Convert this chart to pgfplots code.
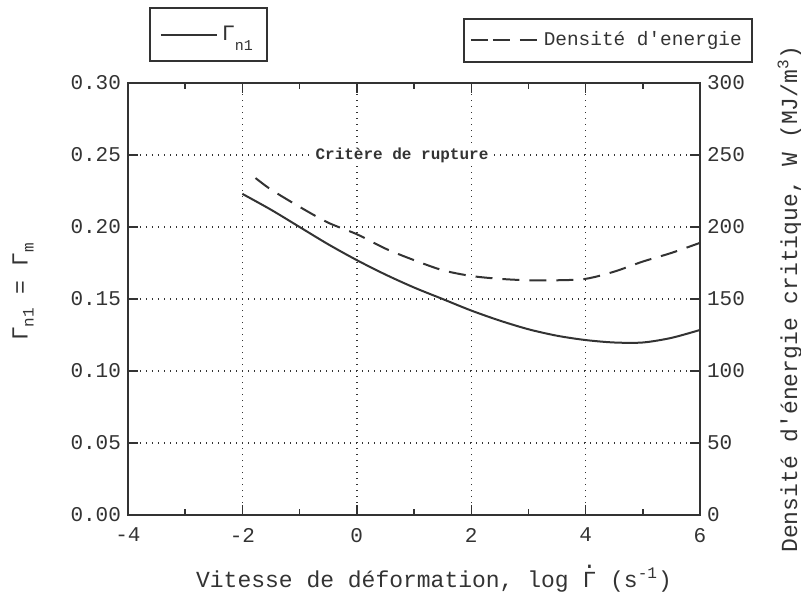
\documentclass[border=0pt]{standalone}
\usepackage{pgfplots}
\pgfplotsset{compat=1.18}
\usepackage{fontspec}
\setmainfont{Liberation Mono}[Ligatures=TeXOff]
\definecolor{ink}{HTML}{333333}
\newcommand{\Gdot}{{\ooalign{Γ\cr\hidewidth\raisebox{0.8em}{.}\hidewidth\cr}}}
\pgfplotstableread{
x y
-2.0 0.223
-1.5 0.212
-1.0 0.200
-0.5 0.188
0.0 0.177
0.5 0.167
1.0 0.158
1.5 0.150
2.0 0.142
2.5 0.135
3.0 0.129
3.5 0.1245
4.0 0.1215
4.5 0.1198
5.0 0.1198
5.5 0.1230
6.0 0.1285
}\gammadata
\pgfplotstableread{
x w
-1.77 234
-1.5 226
-1.0 214
-0.5 203
0.0 195
0.5 185
1.0 177
1.5 170
2.0 166
2.5 164
3.0 163
3.5 163
4.0 164
4.5 169
5.0 176
5.5 182
6.0 189
}\wdata
\begin{document}
\begin{tikzpicture}
\useasboundingbox (-64pt,-42pt) rectangle (336.5pt,257.5pt);
\begin{axis}[
  at={(0,0)}, anchor=south west,
  scale only axis, width=286pt, height=216pt,
  xmin=-4, xmax=6, ymin=0, ymax=0.30,
  xtick={-4,-2,0,2,4,6}, minor xtick={-3,-1,1,3,5},
  ytick={0,0.05,0.10,0.15,0.20,0.25,0.30},
  ytick pos=left,
  tick align=inside,
  major tick length=5pt, minor tick length=3pt,
  axis line style={ink, line width=0.8pt},
  every tick/.style={ink, line width=0.7pt},
  grid=major,
  major grid style={ink, line width=0.7pt, dash pattern=on 0.7pt off 2.3pt},
  /pgf/number format/assume math mode=true,
  tick label style={font=\fontsize{10.5}{12}\selectfont, text=ink},
  yticklabel style={/pgf/number format/.cd, fixed, fixed zerofill, precision=2},
  xticklabel style={yshift=-3pt},
  xlabel={Vitesse de déformation, log \Gdot{} (s\textsuperscript{-1})},
  xlabel style={at={(axis description cs:0.535,0)}, yshift=-32.5pt, anchor=center, font=\fontsize{11.5}{13}\selectfont, text=ink},
  ylabel={Γ\raisebox{-3pt}{\fontsize{8}{9}\selectfont n1} = Γ\raisebox{-3pt}{\fontsize{8}{9}\selectfont m}},
  ylabel style={at={(axis description cs:-0.1836,0.516)}, anchor=center, font=\fontsize{11.5}{13}\selectfont, text=ink},
  legend style={at={(axis description cs:0.0367,1.176)}, anchor=north west, draw=ink, line width=0.8pt, inner xsep=5pt, inner ysep=7pt, font=\fontsize{11}{13}\selectfont, text=ink},
  legend image code/.code={\draw[#1] (0pt,0pt) -- (28pt,0pt);},
]
\addplot[ink, line width=1pt, smooth] table[x=x, y=y] {\gammadata};
\addlegendentry{Γ\raisebox{-5pt}{\fontsize{7.5}{9}\selectfont n1}}
\node[fill=white, inner sep=1.5pt, text=ink, font=\bfseries\fontsize{8}{10}\selectfont] at (axis cs:0.79,0.25) {Critère de rupture};
\end{axis}
\begin{axis}[
  at={(0,0)}, anchor=south west,
  scale only axis, width=286pt, height=216pt,
  xmin=-4, xmax=6, ymin=0, ymax=300,
  axis x line=none, axis y line*=right,
  ytick={0,50,100,150,200,250,300},
  tick align=inside,
  major tick length=5pt,
  axis line style={ink, line width=0.8pt},
  every tick/.style={ink, line width=0.7pt},
  /pgf/number format/assume math mode=true,
  tick label style={font=\fontsize{10.5}{12}\selectfont, text=ink},
  ylabel={Densité d'énergie critique, W (MJ/m\textsuperscript{3})},
  ylabel style={at={(axis description cs:1.157,0.5)}, anchor=center, font=\fontsize{11.5}{13}\selectfont, text=ink},
  legend style={at={(axis description cs:0.5857,1.1505)}, anchor=north west, draw=ink, line width=0.8pt, inner xsep=3pt, inner ysep=4.5pt, font=\fontsize{9.7}{12}\selectfont, text=ink},
  legend image code/.code={\path (0pt,0pt) -- (10pt,0pt);\draw[#1] (11pt,0pt) -- (34pt,0pt);},
]
\addplot[ink, line width=1pt, smooth, dash pattern=on 8.5pt off 5pt] table[x=x, y=w] {\wdata};
\addlegendentry{Densité d'energie}
\end{axis}
\end{tikzpicture}
\end{document}
